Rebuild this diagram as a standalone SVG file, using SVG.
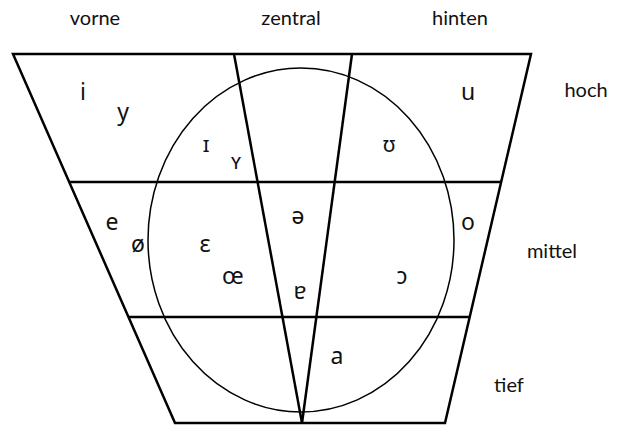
<svg xmlns="http://www.w3.org/2000/svg" width="618" height="426" viewBox="0 0 618 426">
<style>
.frame{fill:none;stroke:#000;stroke-width:2.5;stroke-linejoin:miter}
.ell{fill:none;stroke:#000;stroke-width:1.5}
.lbl{font-family:Lato,"Liberation Sans",sans-serif;font-size:20px;fill:#111;text-anchor:middle}
.v{font-family:"Noto Sans","DejaVu Sans",sans-serif;font-size:23px;fill:#111;text-anchor:middle}
.s{font-size:21px}
</style>
<rect width="618" height="426" fill="#fff"/>
<g id="chart">
<ellipse class="ell" cx="301" cy="240" rx="153" ry="172"/>
<polygon class="frame" points="13,54 531,54 445,423 175,423"/>
<line class="frame" x1="69" y1="182" x2="501" y2="182"/>
<line class="frame" x1="129" y1="317" x2="470" y2="317"/>
<line class="frame" x1="234" y1="54" x2="302" y2="423"/>
<line class="frame" x1="352" y1="54" x2="302" y2="423"/>
</g>
<g id="labels">
<text class="lbl" x="95" y="25">vorne</text>
<text class="lbl" x="291" y="25">zentral</text>
<text class="lbl" x="460" y="25">hinten</text>
<text class="lbl" x="586" y="97">hoch</text>
<text class="lbl" x="552" y="258">mittel</text>
<text class="lbl" x="509" y="392">tief</text>
</g>
<g id="vowels">
<text class="v" x="83" y="100">i</text>
<text class="v" x="123" y="120">y</text>
<text class="v s" x="206" y="152">ɪ</text>
<text class="v s" x="236" y="169">ʏ</text>
<text class="v" x="468" y="100">u</text>
<text class="v s" x="389" y="152">ʊ</text>
<text class="v" x="112" y="230">e</text>
<text class="v" x="138" y="252">ø</text>
<text class="v" x="205" y="252">ɛ</text>
<text class="v" x="233" y="284">œ</text>
<text class="v" x="298" y="224">ə</text>
<text class="v" x="300" y="299">ɐ</text>
<text class="v" x="468" y="230">o</text>
<text class="v" x="402" y="284">ɔ</text>
<text class="v" x="337" y="364">a</text>
</g>
</svg>
